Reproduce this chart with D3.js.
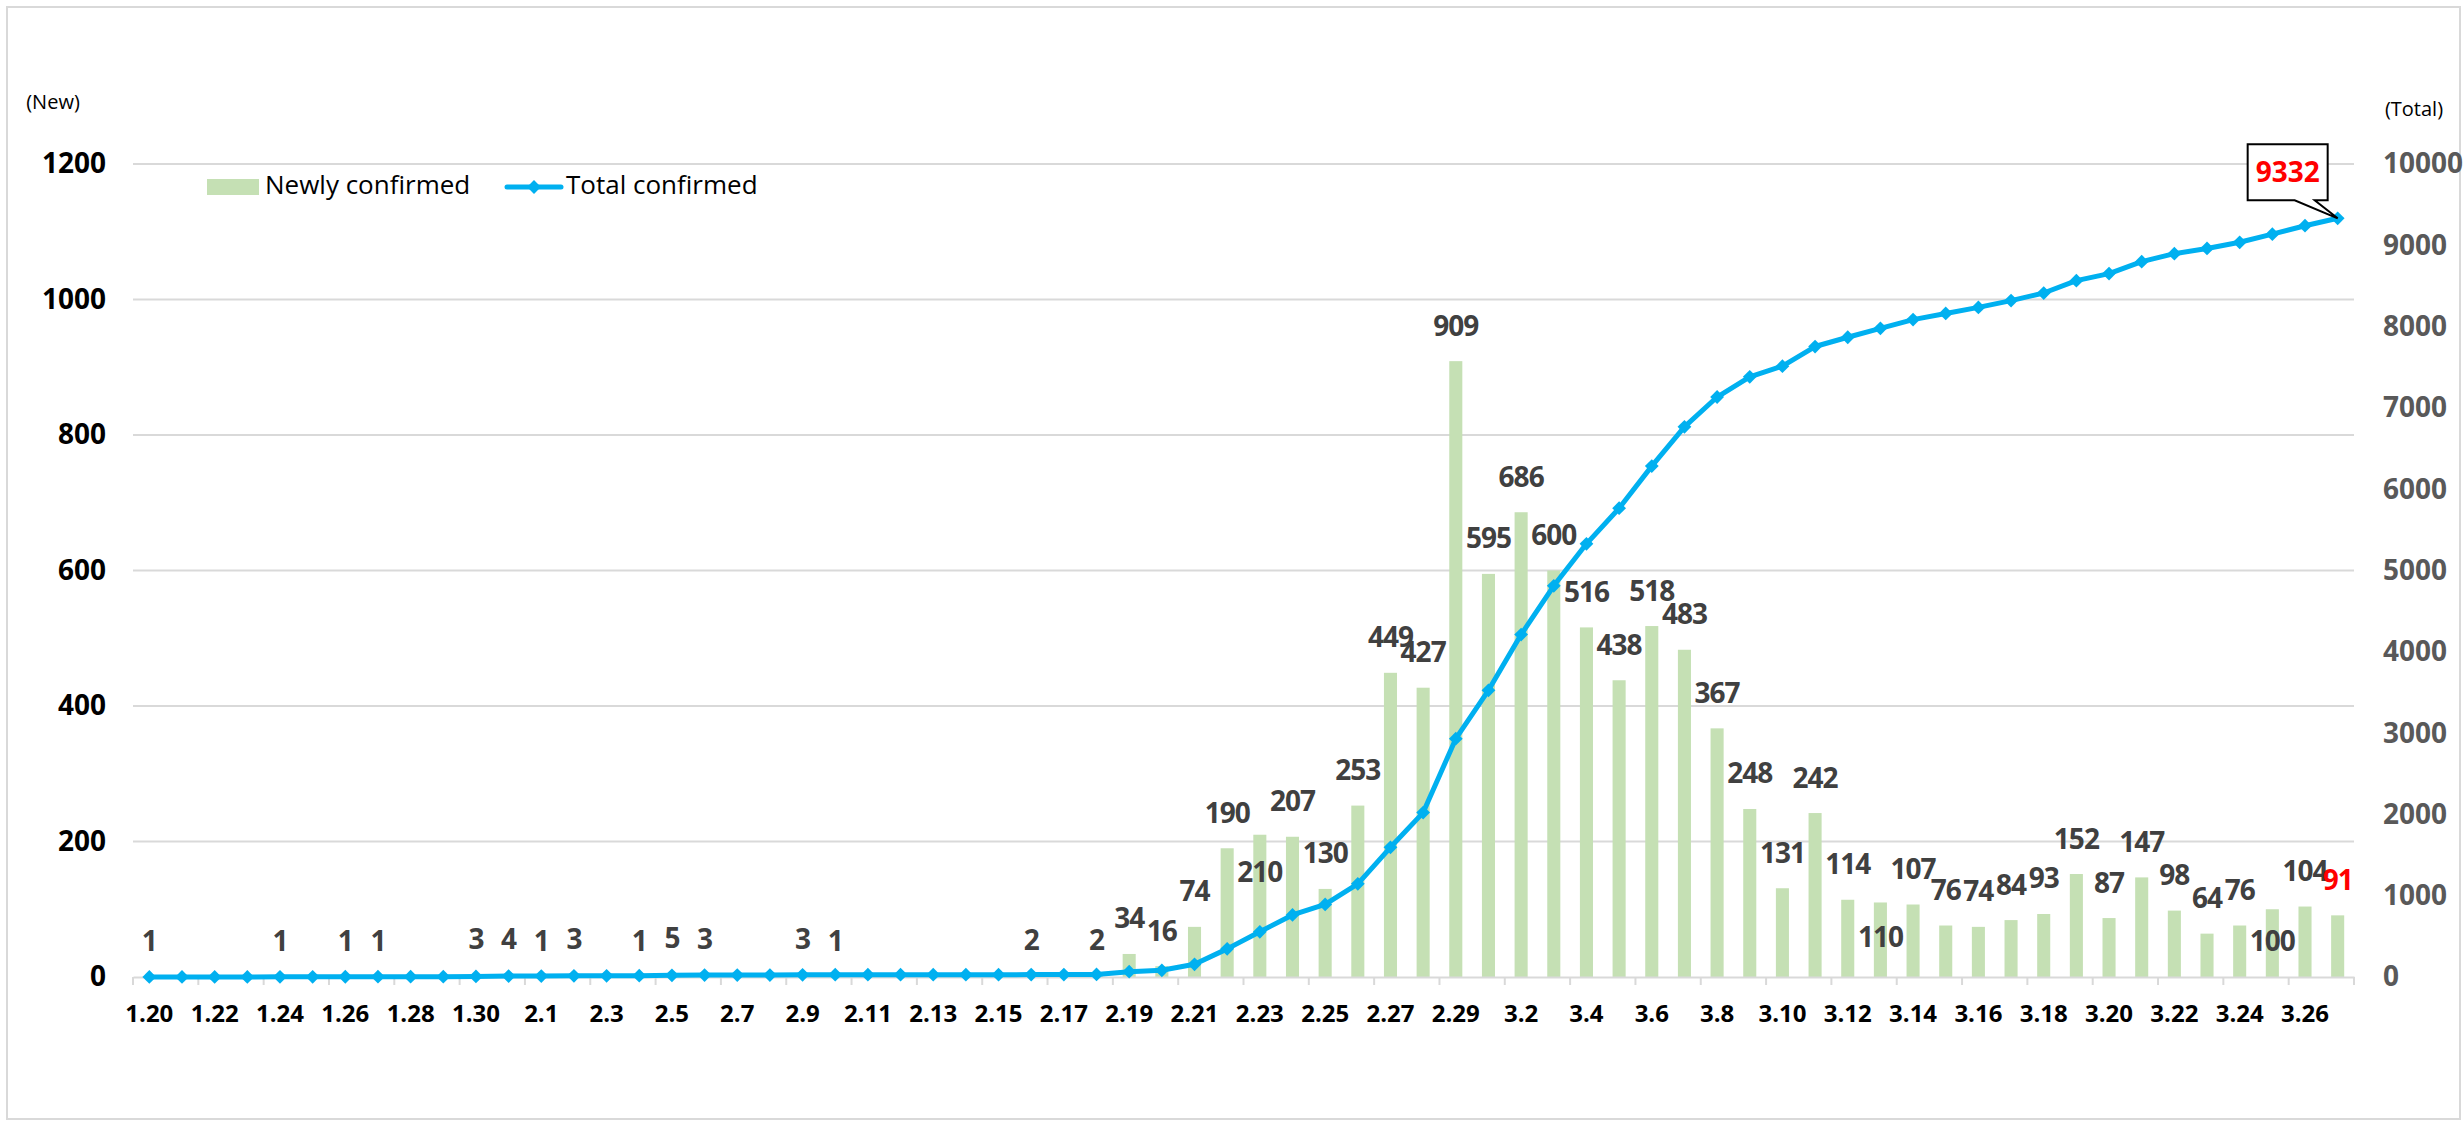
<!DOCTYPE html>
<html>
<head>
<meta charset="utf-8">
<script src="https://cdn.jsdelivr.net/npm/d3@7"></script>
<style>
  body { margin: 0; background: #fff; }
  svg text { font-family: "Open Sans", "Noto Sans CJK KR", sans-serif; }
</style>
</head>
<body>
<svg id="chart" width="2464" height="1124"></svg>
<script>
// dates on the x axis (month.day)
var dates = ["1.20","1.21","1.22","1.23","1.24","1.25","1.26","1.27","1.28","1.29","1.30","1.31",
  "2.1","2.2","2.3","2.4","2.5","2.6","2.7","2.8","2.9","2.10","2.11","2.12","2.13","2.14","2.15",
  "2.16","2.17","2.18","2.19","2.20","2.21","2.22","2.23","2.24","2.25","2.26","2.27","2.28","2.29",
  "3.1","3.2","3.3","3.4","3.5","3.6","3.7","3.8","3.9","3.10","3.11","3.12","3.13","3.14","3.15",
  "3.16","3.17","3.18","3.19","3.20","3.21","3.22","3.23","3.24","3.25","3.26","3.27"];

// newly confirmed per day (bars, left axis)
var newCases = [1,0,0,0,1,0,1,1,0,0,3,4,
  1,3,0,1,5,3,0,0,3,1,0,0,0,0,0,
  2,0,2,34,16,74,190,210,207,130,253,449,427,909,
  595,686,600,516,438,518,483,367,248,131,242,114,110,107,76,
  74,84,93,152,87,147,98,64,76,100,104,91];

// total confirmed (line, right axis)
var totalCases = [1,1,1,1,2,2,3,4,4,4,7,11,
  12,15,15,16,21,24,24,24,27,28,28,28,28,28,28,
  30,30,32,66,82,156,346,556,763,893,1146,1595,2022,2931,
  3526,4212,4812,5328,5766,6284,6767,7134,7382,7513,7755,7869,7979,8086,8162,
  8236,8320,8413,8565,8652,8799,8897,8961,9037,9137,9241,9332];

var leftTicks = [0,200,400,600,800,1000,1200];
var rightTicks = [0,1000,2000,3000,4000,5000,6000,7000,8000,9000,10000];

// labels that were moved by hand in the original (px down from the usual spot)
var labelNudge = {"2.23": 73, "3.13": 70, "3.25": 67};

var plotLeft = 133, plotRight = 2354, plotTop = 164, plotBottom = 977;
var barColor = "#c5e0b4", lineColor = "#00b0f0", gridColor = "#d9d9d9";

var canvas = d3.select("#chart");

var x = d3.scaleBand().domain(dates).range([plotLeft, plotRight]);
var yL = d3.scaleLinear().domain([0, 1200]).range([plotBottom, plotTop]);
var yR = d3.scaleLinear().domain([0, 10000]).range([plotBottom, plotTop]);
var cx = function(d){ return x(d) + x.bandwidth() / 2; };

// outer frame
canvas.append("rect")
  .attr("x", 7).attr("y", 7).attr("width", 2453).attr("height", 1112)
  .style("fill", "none").style("stroke", gridColor).style("stroke-width", 2);

// gridlines from the left axis
canvas.selectAll("grid")
  .data(leftTicks.slice(1))
  .enter().append("line")
  .attr("x1", plotLeft).attr("x2", plotRight)
  .attr("y1", function(d){ return yL(d); }).attr("y2", function(d){ return yL(d); })
  .style("stroke", gridColor).style("stroke-width", 2);

// left axis
var axL = canvas.append("g")
  .attr("transform", "translate(" + plotLeft + ",0)")
  .call(d3.axisLeft(yL).tickValues(leftTicks).tickFormat(d3.format("d")).tickSize(0).tickPadding(27));
axL.select(".domain").remove();
axL.selectAll("text").style("font-size", "28px").style("font-weight", "bold").style("fill", "#000");

// right axis
var axR = canvas.append("g")
  .attr("transform", "translate(" + plotRight + ",0)")
  .call(d3.axisRight(yR).tickValues(rightTicks).tickFormat(d3.format("d")).tickSize(0).tickPadding(29));
axR.select(".domain").remove();
axR.selectAll("text").style("font-size", "28px").style("font-weight", "bold").style("fill", "#595959");

// axis titles
canvas.append("text").text("(New)")
  .attr("x", 53).attr("y", 104).attr("text-anchor", "middle").attr("dominant-baseline", "middle")
  .style("font-size", "20px").style("fill", "#000");
canvas.append("text").text("(Total)")
  .attr("x", 2414).attr("y", 111).attr("text-anchor", "middle").attr("dominant-baseline", "middle")
  .style("font-size", "20px").style("fill", "#000");

// bars
var barW = x.bandwidth() * 0.4;
canvas.selectAll("bars")
  .data(dates)
  .enter().append("rect")
  .attr("x", function(d){ return cx(d) - barW / 2; })
  .attr("y", function(d, i){ return yL(newCases[i]); })
  .attr("width", barW)
  .attr("height", function(d, i){ return plotBottom - yL(newCases[i]); })
  .style("fill", barColor);

// bottom axis, labels every second day, tick marks between categories
var axB = canvas.append("g")
  .attr("transform", "translate(0," + plotBottom + ")")
  .call(d3.axisBottom(x).tickValues(dates.filter(function(d, i){ return i % 2 == 0; })).tickSize(0).tickPadding(28));
axB.select(".domain").style("stroke", gridColor).style("stroke-width", 2);
axB.selectAll("text").style("font-size", "24px").style("font-weight", "bold").style("fill", "#000");
var tickPos = dates.filter(function(d, i){ return i % 2 == 0; }).map(function(d){ return x(d); }).concat([plotRight]);
canvas.selectAll("xticks")
  .data(tickPos)
  .enter().append("line")
  .attr("x1", function(d){ return d; }).attr("x2", function(d){ return d; })
  .attr("y1", plotBottom).attr("y2", plotBottom + 8)
  .style("stroke", gridColor).style("stroke-width", 2);

// total line with diamond markers
var line = d3.line()
  .x(function(d){ return cx(d); })
  .y(function(d, i){ return yR(totalCases[i]); });
canvas.append("path")
  .datum(dates)
  .attr("d", line)
  .style("fill", "none").style("stroke", lineColor).style("stroke-width", 5)
  .style("stroke-linejoin", "round");
var diamond = d3.symbol(d3.symbolSquare, 95);
canvas.selectAll("markers")
  .data(dates)
  .enter().append("path")
  .attr("d", diamond)
  .attr("transform", function(d, i){ return "translate(" + cx(d) + "," + yR(totalCases[i]) + ") rotate(45)"; })
  .style("fill", lineColor);

// value labels on the bars (zeros left out)
canvas.selectAll("vlabels")
  .data(dates.filter(function(d, i){ return newCases[i] > 0; }))
  .enter().append("text")
  .text(function(d){ return newCases[dates.indexOf(d)]; })
  .attr("x", function(d){ return cx(d); })
  .attr("y", function(d){ return yL(newCases[dates.indexOf(d)]) - 33 + (labelNudge[d] || 0); })
  .attr("text-anchor", "middle").attr("dominant-baseline", "middle")
  .style("font-size", "28px").style("font-weight", "bold").style("letter-spacing", "-1px")
  .style("fill", function(d){ return d == dates[dates.length - 1] ? "#ff0000" : "#404040"; });

// callout on the last total
var last = dates[dates.length - 1];
var px = cx(last), py = yR(totalCases[totalCases.length - 1]);
var bx = px - 90, by = py - 74, bw = 80, bh = 56;
canvas.append("path")
  .attr("d", "M" + bx + "," + by + "H" + (bx + bw) + "V" + (by + bh) + "H" + (bx + 67) +
    "L" + px + "," + py + "L" + (bx + 47) + "," + (by + bh) + "H" + bx + "Z")
  .style("fill", "#fff").style("stroke", "#000").style("stroke-width", 2);
canvas.append("text").text(totalCases[totalCases.length - 1])
  .attr("x", bx + bw / 2).attr("y", by + bh / 2 + 2)
  .attr("text-anchor", "middle").attr("dominant-baseline", "middle")
  .style("font-size", "28px").style("font-weight", "bold").style("fill", "#ff0000");

// legend
var legend = canvas.append("g");
legend.append("rect").attr("x", 207).attr("y", 179).attr("width", 52).attr("height", 16).style("fill", barColor);
legend.append("text").text("Newly confirmed").attr("x", 265).attr("y", 187)
  .attr("dominant-baseline", "middle").style("font-size", "26px").style("fill", "#000");
legend.append("line").attr("x1", 507).attr("x2", 561).attr("y1", 187).attr("y2", 187)
  .style("stroke", lineColor).style("stroke-width", 5).style("stroke-linecap", "round");
legend.append("path").attr("d", diamond).attr("transform", "translate(534,187) rotate(45)").style("fill", lineColor);
legend.append("text").text("Total confirmed").attr("x", 566).attr("y", 187)
  .attr("dominant-baseline", "middle").style("font-size", "26px").style("fill", "#000");
</script>
</body>
</html>
